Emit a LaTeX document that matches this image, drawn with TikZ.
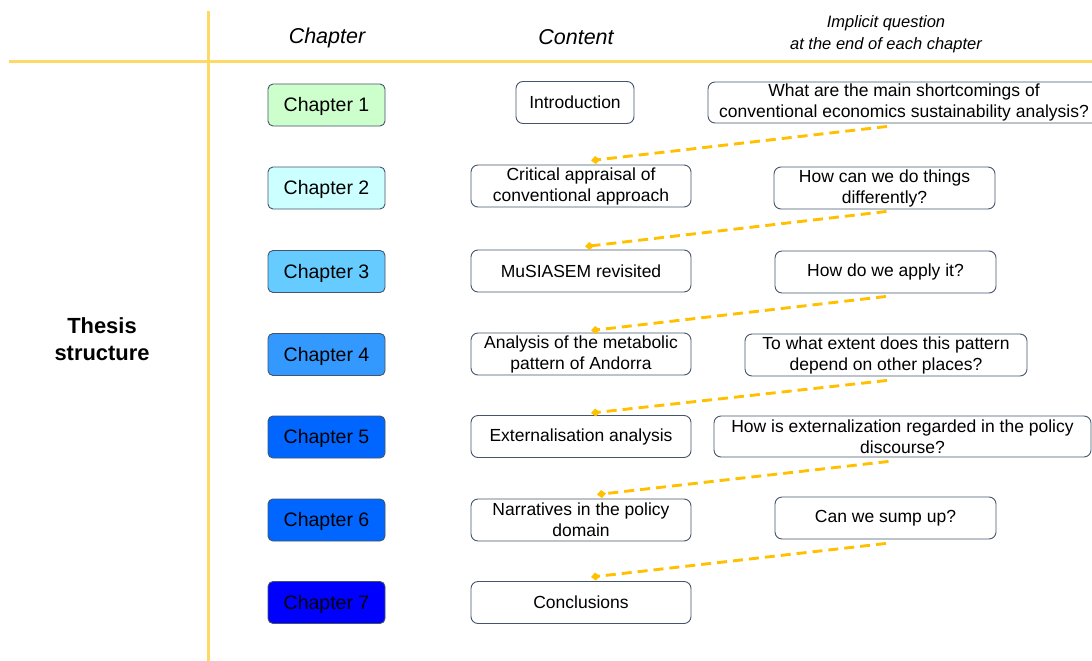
\documentclass[tikz,border=0pt]{standalone}
\usepackage{fontspec}
\setmainfont{Liberation Sans}
\usetikzlibrary{arrows.meta,calc}
\definecolor{gridgold}{HTML}{FFD966}
\definecolor{linkgold}{HTML}{FFC000}
\definecolor{boxedge}{HTML}{44546A}
\definecolor{ch1}{HTML}{CCFFCC}
\definecolor{ch2}{HTML}{CCFFFF}
\definecolor{ch3}{HTML}{66CCFF}
\definecolor{ch4}{HTML}{3399FF}
\definecolor{ch5}{HTML}{0066FF}
\definecolor{ch6}{HTML}{0066FF}
\definecolor{ch7}{HTML}{0000FF}
\tikzset{
  gridline/.style={draw=gridgold, line width=3pt},
  header/.style={font=\fontsize{21.5}{26}\selectfont\itshape},
  chapterbox/.style={draw=boxedge, line width=0.9pt, rounded corners=5pt,
    minimum width=117pt, minimum height=42pt, inner sep=0pt,
    text depth=1pt, font=\fontsize{19.5}{23}\selectfont},
  contentbox/.style={draw=boxedge, line width=0.9pt, rounded corners=7pt,
    minimum height=42pt, inner sep=0pt, align=center,
    font=\fontsize{17.5}{21}\selectfont},
  questionbox/.style={contentbox},
  link/.style={draw=linkgold, line width=2.9pt, dash pattern=on 10pt off 6pt,
    -{Diamond[length=9pt,width=8pt,line width=0pt]}}
}
\begin{document}
\begin{tikzpicture}[x=1pt,y=-1pt]
\useasboundingbox (0,0) rectangle (1092,661);

% table rules
\draw[gridline] (208,11) -- (208,661);
\draw[gridline] (9,62) -- (1092,62);

% column headers
\node[header] (hchap) at (327,38) {Chapter};
\node[header] (hcont) at (576,37) {Content};
\node[font=\fontsize{16.5}{22}\selectfont\itshape, align=center] (hq) at (886,34)
  {Implicit question\\at the end of each chapter};
\node[font=\fontsize{21.9}{27}\selectfont\bfseries, align=center] (thesis) at (102,339)
  {Thesis\\structure};

% chapters
\node[chapterbox, fill=ch1] (k1) at (326.5,105)   {Chapter 1};
\node[chapterbox, fill=ch2] (k2) at (326.5,188)   {Chapter 2};
\node[chapterbox, fill=ch3] (k3) at (326.5,271.5) {Chapter 3};
\node[chapterbox, fill=ch4] (k4) at (326.5,354.5) {Chapter 4};
\node[chapterbox, fill=ch5] (k5) at (326.5,437)   {Chapter 5};
\node[chapterbox, fill=ch6] (k6) at (326.5,520)   {Chapter 6};
\node[chapterbox, fill=ch7] (k7) at (326.5,602.5) {Chapter 7};

% contents
\node[contentbox, minimum width=118pt] (c1) at (575,102.5) {Introduction};
\node[contentbox, minimum width=220pt] (c2) at (581,186) {Critical appraisal of\\conventional approach};
\node[contentbox, minimum width=220pt] (c3) at (581,271) {MuSIASEM revisited};
\node[contentbox, minimum width=220pt] (c4) at (581,354) {Analysis of the metabolic\\pattern of Andorra};
\node[contentbox, minimum width=220pt] (c5) at (581,436.5) {Externalisation analysis};
\node[contentbox, minimum width=220pt] (c6) at (581,520) {Narratives in the policy\\domain};
\node[contentbox, minimum width=220pt] (c7) at (581,602.5) {Conclusions};

% questions
\node[questionbox, minimum width=392pt, minimum height=41pt] (q1) at (904,102.5)
  {What are the main shortcomings of\\conventional economics sustainability analysis?};
\node[questionbox, minimum width=221pt] (q2) at (884.5,188) {How can we do things\\differently?};
\node[questionbox, minimum width=221pt] (q3) at (885.5,272) {How do we apply it?};
\node[questionbox, minimum width=282pt] (q4) at (886,355) {To what extent does this pattern\\depend on other places?};
\node[questionbox, minimum width=377pt, minimum height=41pt] (q5) at (902.5,436.5)
  {How is externalization regarded in the policy\\discourse?};
\node[questionbox, minimum width=221pt] (q6) at (885.5,518) {Can we sump up?};

% links from each question to the next chapter's content
\draw[link] ($(q1.south)+(-17,3)$) -- ($(c2.north)+(10,-4)$);
\draw[link] ($(q2.south)+(2,2)$)   -- ($(c3.north)+(4,-3)$);
\draw[link] ($(q3.south)+(0.5,3)$) -- ($(c4.north)+(10,-2)$);
\draw[link] ($(q4.south)+(1,4)$)   -- ($(c5.north)+(10,-2)$);
\draw[link] ($(q5.south)+(-14,4)$) -- ($(c6.north)+(16,-4)$);
\draw[link] ($(q6.south)+(0.5,4)$) -- ($(c7.north)+(10,-4)$);
\end{tikzpicture}
\end{document}
